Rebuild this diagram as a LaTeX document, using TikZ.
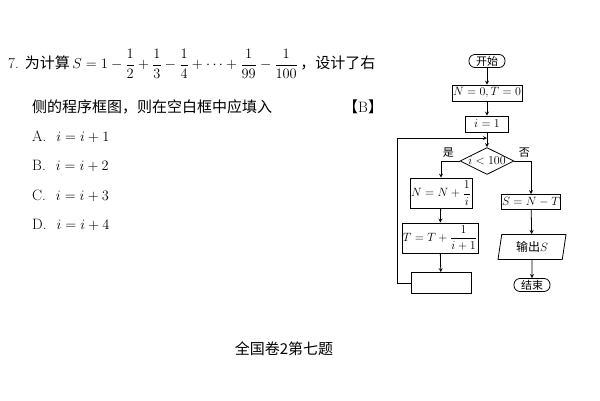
\documentclass[tikz,border=0pt]{standalone}
\usepackage{amsmath}
\usepackage{fontspec}
\newfontfamily\cjk{Noto Sans CJK SC}
\usetikzlibrary{shapes,arrows,positioning,calc}

\begin{document}
\begin{tikzpicture}[x=1pt, y=-1pt, >=stealth,
    txt/.style={anchor=west, inner sep=0pt, font=\fontsize{15}{18}\selectfont},
    proc/.style={rectangle, draw, line width=0.8pt, inner sep=1pt,
                 text centered, font=\fontsize{12}{14}\selectfont},
    term/.style={rectangle, draw, line width=0.8pt, rounded corners=6pt, inner sep=1pt,
                 minimum width=36pt, minimum height=13pt, font=\cjk\fontsize{11}{13}\selectfont},
    cond/.style={diamond, draw, line width=0.8pt, inner sep=0pt, aspect=2,
                 minimum width=54pt, minimum height=25pt, font=\fontsize{12}{14}\selectfont},
    io/.style={trapezium, draw, line width=0.8pt, trapezium left angle=74, trapezium right angle=106,
               trapezium stretches body, minimum width=68pt, minimum height=25pt, inner sep=1pt,
               font=\fontsize{12}{14}\selectfont},
    flow/.style={->, line width=0.8pt}
]
\useasboundingbox (0,0) rectangle (600,400);

% Question text
\node[txt] (line1) at (8,64) {7.\hspace{6pt}{\cjk 为计算}\,$S=1-\dfrac{1}{2}+\dfrac{1}{3}-\dfrac{1}{4}+\cdots+\dfrac{1}{99}-\dfrac{1}{100}$\,{\cjk ，设计了右}};
\node[txt] (line2) at (32,107) {\cjk 侧的程序框图，则在空白框中应填入};
\node[txt] (answer) at (343,107) {{\cjk 【}B{\cjk 】}};

% Choices
\foreach \lab/\k [count=\j] in {A/1,B/2,C/3,D/4}
  \node[txt] (opt\lab) at (32,{107.7+29.3*\j}) {\lab.\hspace{10pt}$i=i+\k$};

% Flowchart
\node[term] (start) at (487,61) {开始};
\node[proc, minimum width=63pt, minimum height=16pt] (init) at (487,93) {$N=0,T=0$};
\node[proc, minimum width=43pt, minimum height=16pt] (ione) at (487,124) {$i=1$};
\coordinate (join) at (487,138);
\node[cond] (test) at (487,161) {$i<100$};
\node[proc, minimum width=55pt, minimum height=30pt] (addn) at (441,193) {$N=N+\dfrac{1}{i}$};
\node[proc, minimum width=65pt, minimum height=30pt] (addt) at (440,238) {$T=T+\dfrac{1}{i+1}$};
\node[proc, minimum width=60pt, minimum height=21pt] (blank) at (441,283) {};
\node[proc, minimum width=58pt, minimum height=15pt] (diff) at (531,202) {$S=N-T$};
\node[io] (out) at (532,247) {{\cjk 输出}$S$};
\node[term] (stop) at (532,285) {结束};

% Connections
\draw[flow] (start) -- (init);
\draw[flow] (init) -- (ione);
\draw[flow] (ione) -- (test);
\draw[flow] (test.west) -| (addn.north) node[pos=0.3, above, font=\cjk\fontsize{11}{13}\selectfont] {是};
\draw[flow] (test.east) -| (diff.north) node[pos=0.3, above, font=\cjk\fontsize{11}{13}\selectfont] {否};
\draw[flow] (addn) -- (addt);
\draw[flow] (addt) -- (blank);
\draw[flow] (blank.west) -- (397,283) -- (397,138) -- (join);
\draw[flow] (diff) -- (out);
\draw[flow] (out) -- (stop);

% Caption
\node[font=\cjk\fontsize{15}{18}\selectfont] (caption) at (284,349) {全国卷2第七题};

\end{tikzpicture}
\end{document}
